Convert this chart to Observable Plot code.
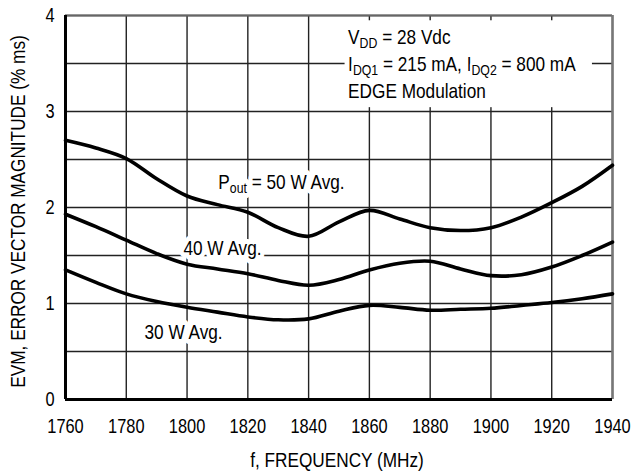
<!DOCTYPE html>
<html><head><meta charset="utf-8">
<script src="https://cdn.jsdelivr.net/npm/d3@7"></script>
<script src="https://cdn.jsdelivr.net/npm/@observablehq/plot@0.6"></script>
<style>
body{margin:0;background:#fff;}
#chart svg{display:block;}
</style></head><body><div id="chart"></div>
<script>
// Data
const freq  = [1760,1770,1780,1790,1800,1810,1820,1830,1840,1850,1860,1870,1880,1890,1900,1910,1920,1930,1940];
const evm50 = [2.70,2.62,2.51,2.30,2.12,2.03,1.95,1.79,1.70,1.85,1.97,1.88,1.79,1.76,1.79,1.90,2.05,2.22,2.44];
const evm40 = [1.93,1.80,1.66,1.52,1.41,1.36,1.31,1.24,1.19,1.25,1.35,1.42,1.44,1.36,1.29,1.30,1.38,1.50,1.64];
const evm30 = [1.35,1.22,1.10,1.02,0.96,0.91,0.86,0.83,0.84,0.92,0.98,0.96,0.93,0.94,0.95,0.98,1.01,1.05,1.10];
const seriesNames = ["50 W", "40 W", "30 W"];
const xTicks = [1760,1780,1800,1820,1840,1860,1880,1900,1920,1940];
const yTicks = [0,1,2,3,4];
const yGrid  = [0,0.5,1,1.5,2,2.5,3,3.5,4];
const curveLabels = ["P{out} = 50 W Avg.", "40 W Avg.", "30 W Avg."];
const curveLabelX = [1810.3, 1798.8, 1786];
const curveLabelY = [2.265, 1.577, 0.702];
const noteLines = ["V{DD} = 28 Vdc", "I{DQ1} = 215 mA, I{DQ2} = 800 mA", "EDGE Modulation"];
const noteX = 1853;
const noteY = [3.776, 3.494, 3.212];
const noteBox = [{x1: 1852, x2: 1933.4, y1: 3.04, y2: 3.945}];
const xTitle = "f, FREQUENCY (MHz)";
const yTitle = "EVM, ERROR VECTOR MAGNITUDE (% ms)";

const FONT = "'Liberation Sans Narrow','Arial Narrow','Liberation Sans',Arial,sans-serif";
const allSeries = [evm50, evm40, evm30];
const rows = allSeries.flatMap((vals, s) => freq.map((f, i) => ({f, v: vals[i], s: seriesNames[s]})));

const chart = Plot.plot({
  width: 632, height: 472,
  marginLeft: 65, marginRight: 20, marginTop: 15, marginBottom: 73,
  style: {fontFamily: FONT, fontSize: "20px", background: "#fff", color: "#000"},
  x: {domain: [1760, 1940]},
  y: {domain: [0, 4]},
  marks: [
    Plot.gridX(xTicks, {stroke: "#222", strokeOpacity: 1, strokeWidth: 1.4}),
    Plot.gridY(yGrid, {stroke: "#222", strokeOpacity: 1, strokeWidth: 1.4}),
    Plot.ruleY([4], {stroke: "#666", strokeWidth: 2}),
    Plot.ruleX([1940], {stroke: "#777", strokeWidth: 2.5}),
    Plot.rect(noteBox, {x1: "x1", x2: "x2", y1: "y1", y2: "y2", fill: "white"}),
    Plot.text(curveLabels, {x: (d, i) => curveLabelX[i], y: (d, i) => curveLabelY[i], text: d => d,
      textAnchor: "start", lineAnchor: "middle", fontSize: 21, fill: "#000", stroke: "white", strokeWidth: 10}),
    Plot.text(noteLines, {x: () => noteX, y: (d, i) => noteY[i], text: d => d,
      textAnchor: "start", lineAnchor: "middle", fontSize: 21, fill: "#000", stroke: "white", strokeWidth: 6}),
    Plot.lineY(rows, {x: "f", y: "v", z: "s", curve: "catmull-rom", stroke: "#000", strokeWidth: 3.6}),
    Plot.ruleX([1760], {stroke: "#000", strokeWidth: 3}),
    Plot.ruleY([0], {stroke: "#000", strokeWidth: 3}),
    Plot.axisX(xTicks, {tickSize: 0, tickPadding: 19, tickFormat: d => String(d), label: null, fill: "#000"}),
    Plot.axisY(yTicks, {tickSize: 0, tickPadding: 11, tickFormat: d => String(d), label: null, fill: "#000"}),
    Plot.text([xTitle], {frameAnchor: "bottom", dy: 61, dx: -2, text: d => d, fontSize: 21, fill: "#000",
      textAnchor: "middle", lineAnchor: "middle"}),
    Plot.text([yTitle], {frameAnchor: "left", dx: -47, dy: 4, rotate: -90, text: d => d, fontSize: 21, fill: "#000",
      textAnchor: "middle", lineAnchor: "middle"})
  ]
});

// Subscripts: text written as X{sub} becomes a lowered, smaller tspan
const NS = "http://www.w3.org/2000/svg";
chart.querySelectorAll("text").forEach(t => {
  const s = t.textContent;
  if (!s.includes("{")) return;
  t.textContent = "";
  let lowered = false;
  for (const p of s.split(/(\{[^}]*\})/)) {
    if (!p) continue;
    const ts = document.createElementNS(NS, "tspan");
    if (p.startsWith("{")) {
      ts.textContent = p.slice(1, -1);
      ts.setAttribute("font-size", "15");
      ts.setAttribute("dy", "4");
      lowered = true;
    } else {
      ts.textContent = p;
      if (lowered) { ts.setAttribute("dy", "-4"); lowered = false; }
    }
    t.appendChild(ts);
  }
});

// Condensed look (narrow sans): compress every text horizontally about its own anchor
chart.querySelectorAll("text").forEach(t => {
  const tr = t.getAttribute("transform") || "";
  t.setAttribute("transform", (tr + " scale(0.82,1)").trim());
});

document.getElementById("chart").appendChild(chart);
</script>
</body></html>
